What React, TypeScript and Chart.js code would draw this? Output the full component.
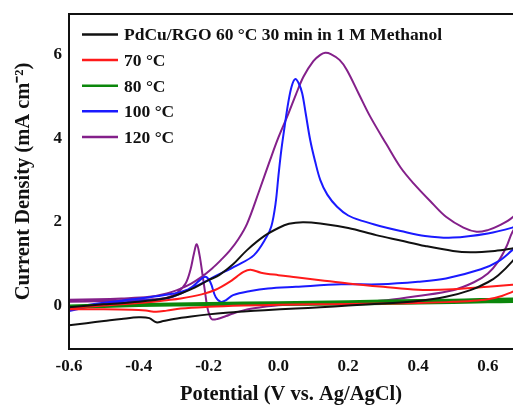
import { useEffect, useRef } from "react";
import { Chart, registerables } from "chart.js";

Chart.register(...registerables);

// ---- Labels & ticks ----
const seriesLabels = [
  "PdCu/RGO 60 °C 30 min in 1 M Methanol",
  "70 °C",
  "80 °C",
  "100 °C",
  "120 °C",
];
const xTickValues = [-0.6, -0.4, -0.2, 0.0, 0.2, 0.4, 0.6];
const yTickValues = [0, 2, 4, 6];

// ---- 60 °C (black) : potential (V) and current density (mA cm-2), closed CV loop ----
const t60V = [
  -0.6, -0.55, -0.5, -0.45, -0.4, -0.37, -0.35, -0.33, -0.3, -0.25, -0.2, -0.15, -0.1, -0.04, 0.05, 0.12,
  0.2, 0.3, 0.4, 0.48, 0.55, 0.6, 0.63, 0.67, 0.71,
  0.71, 0.67, 0.62, 0.55, 0.5, 0.42, 0.35, 0.28, 0.2, 0.12, 0.07, 0.03, 0.0, -0.04, -0.09, -0.13, -0.17, -0.2,
  -0.24, -0.28, -0.32, -0.4, -0.5, -0.6,
];
const t60J = [
  -0.48, -0.43, -0.38, -0.33, -0.29, -0.31, -0.41, -0.38, -0.33, -0.27, -0.22, -0.18, -0.15, -0.12, -0.08, -0.05,
  -0.01, 0.04, 0.1, 0.2, 0.36, 0.55, 0.72, 1.05, 1.5,
  1.42, 1.36, 1.3, 1.27, 1.3, 1.42, 1.55, 1.68, 1.85, 1.96, 1.99, 1.95, 1.85, 1.66, 1.32, 0.98, 0.72, 0.6,
  0.42, 0.28, 0.17, 0.08, 0.02, -0.05,
];

// ---- 70 °C (red) ----
const t70V = [
  -0.6, -0.5, -0.42, -0.38, -0.35, -0.32, -0.28, -0.2, -0.1, 0.0, 0.1, 0.2, 0.3, 0.4, 0.5, 0.55, 0.6, 0.64,
  0.67, 0.71,
  0.71, 0.67, 0.6, 0.5, 0.4, 0.3, 0.2, 0.12, 0.05, 0.0, -0.05, -0.08, -0.1, -0.12, -0.14, -0.18, -0.22,
  -0.28, -0.32, -0.4, -0.5, -0.6,
];
const t70J = [
  -0.1, -0.1, -0.11, -0.13, -0.16, -0.13, -0.08, -0.04, -0.01, 0.01, 0.02, 0.03, 0.04, 0.05, 0.08, 0.1, 0.14,
  0.22, 0.32, 0.45,
  0.52, 0.49, 0.44, 0.38, 0.37, 0.44, 0.52, 0.6, 0.67, 0.72, 0.78, 0.85, 0.8, 0.68, 0.56, 0.37, 0.26,
  0.16, 0.12, 0.05, -0.01, -0.06,
];

// ---- 80 °C (green) ----
const t80V = [-0.6, -0.4, -0.2, 0.0, 0.2, 0.4, 0.6, 0.71, 0.71, 0.5, 0.3, 0.1, -0.1, -0.3, -0.5, -0.6];
const t80J = [-0.05, -0.01, 0.01, 0.02, 0.03, 0.05, 0.08, 0.1, 0.15, 0.12, 0.1, 0.07, 0.05, 0.03, 0.0, -0.02];

// ---- 100 °C (blue) ----
const t100V = [
  -0.6, -0.55, -0.5, -0.4, -0.32, -0.28, -0.247, -0.225, -0.209, -0.195, -0.18, -0.165, -0.15, -0.13, -0.08,
  -0.03, 0.05, 0.18, 0.29, 0.4, 0.48, 0.58, 0.63, 0.67, 0.71,
  0.71, 0.67, 0.6, 0.5, 0.42, 0.35, 0.29, 0.24, 0.2, 0.168, 0.14, 0.12, 0.105, 0.091, 0.078, 0.068, 0.058,
  0.048, 0.038, 0.028, 0.018, 0.008, 0.0, -0.008, -0.02, -0.035, -0.07, -0.12, -0.185, -0.23, -0.28, -0.33,
  -0.4, -0.5, -0.6,
];
const t100J = [
  -0.14, -0.05, 0.02, 0.1, 0.16, 0.28, 0.44, 0.6, 0.68, 0.55, 0.2, 0.08, 0.12, 0.24, 0.34,
  0.4, 0.44, 0.5, 0.5, 0.56, 0.64, 0.86, 1.05, 1.32, 1.6,
  1.98, 1.86, 1.72, 1.62, 1.66, 1.78, 1.9, 2.02, 2.15, 2.36, 2.65, 3.0, 3.45, 3.96, 4.6, 5.08, 5.32,
  5.42, 5.25, 4.85, 4.3, 3.7, 3.1, 2.45, 1.9, 1.62, 1.2, 0.95, 0.68, 0.48, 0.32, 0.24,
  0.16, 0.06, -0.06,
];

// ---- 120 °C (purple) ----
const t120V = [
  -0.6, -0.5, -0.42, -0.36, -0.32, -0.29, -0.266, -0.252, -0.242, -0.234, -0.226, -0.218, -0.21, -0.204,
  -0.197, -0.19, -0.175, -0.15, -0.13, -0.09, -0.04, 0.0, 0.1, 0.2, 0.31, 0.4, 0.5, 0.56, 0.6, 0.63, 0.653,
  0.67, 0.71,
  0.71, 0.67, 0.63, 0.6, 0.568, 0.53, 0.48, 0.44, 0.387, 0.35, 0.31, 0.263, 0.23, 0.196, 0.175, 0.15, 0.134,
  0.12, 0.1, 0.072, 0.05, 0.025, 0.0, -0.023, -0.056, -0.09, -0.115, -0.14, -0.165, -0.19, -0.22, -0.25,
  -0.28, -0.32, -0.37, -0.45, -0.52, -0.6,
];
const t120J = [
  0.08, 0.1, 0.12, 0.14, 0.18, 0.3, 0.52, 0.85, 1.24, 1.46, 1.2, 0.76, 0.3, -0.04,
  -0.25, -0.34, -0.33, -0.26, -0.2, -0.1, -0.04, 0.0, 0.03, 0.06, 0.12, 0.22, 0.36, 0.55, 0.76, 1.05, 1.4,
  1.75, 2.3,
  2.5, 2.1, 1.9, 1.8, 1.76, 1.86, 2.12, 2.45, 2.92, 3.3, 3.85, 4.52, 5.07, 5.64, 5.88, 6.02, 6.05,
  6.0, 5.85, 5.48, 5.05, 4.52, 4.02, 3.5, 2.72, 1.95, 1.58, 1.3, 1.08, 0.88, 0.68, 0.52,
  0.4, 0.28, 0.2, 0.16, 0.14, 0.13,
];

const seriesColors = ["#111111", "#ff1a1a", "#0b870b", "#1a1aff", "#84208a"];
const seriesWidths = [2, 2, 3, 2, 2];

const toPoints = (v: number[], j: number[]) => v.map((x, i) => ({ x, y: j[i] }));

const FONT = '"Liberation Serif", "Times New Roman", serif';

const framePlugin = {
  id: "frame",
  afterDatasetsDraw(chart: any) {
    const { ctx, chartArea } = chart;
    const { left, top, bottom, right } = chartArea;
    ctx.save();
    ctx.strokeStyle = "#111";
    ctx.lineWidth = 2;
    ctx.beginPath();
    ctx.moveTo(right + 2, top);
    ctx.lineTo(left, top);
    ctx.lineTo(left, bottom);
    ctx.lineTo(right + 2, bottom);
    ctx.stroke();
    ctx.restore();
  },
};

const legendPlugin = {
  id: "insetLegend",
  afterDraw(chart: any) {
    const { ctx, chartArea } = chart;
    const { left, top } = chartArea;
    chart.data.datasets.forEach((ds: any, i: number) => {
      const yc = top + 20.5 + i * 25.6;
      ctx.save();
      ctx.strokeStyle = ds.borderColor;
      ctx.lineWidth = 2.5;
      ctx.beginPath();
      ctx.moveTo(left + 13, yc);
      ctx.lineTo(left + 49, yc);
      ctx.stroke();
      ctx.fillStyle = "#111";
      ctx.font = `bold 17.5px ${FONT}`;
      ctx.textBaseline = "alphabetic";
      ctx.textAlign = "left";
      ctx.fillText(ds.label, left + 55, yc + 5.8);
      ctx.restore();
    });
  },
};

export default function App() {
  const canvasRef = useRef<HTMLCanvasElement | null>(null);

  useEffect(() => {
    if (!canvasRef.current) return;
    Chart.defaults.font.family = FONT;
    const series = [
      toPoints(t60V, t60J),
      toPoints(t70V, t70J),
      toPoints(t80V, t80J),
      toPoints(t100V, t100J),
      toPoints(t120V, t120J),
    ];
    const chart = new Chart(canvasRef.current, {
      type: "scatter",
      data: {
        datasets: series.map((data, i) => ({
          label: seriesLabels[i],
          data,
          showLine: true,
          borderColor: seriesColors[i],
          backgroundColor: seriesColors[i],
          borderWidth: seriesWidths[i],
          pointRadius: 0,
          tension: 0.35,
          fill: false,
        })),
      },
      options: {
        animation: false,
        responsive: false,
        maintainAspectRatio: false,
        events: [],
        layout: { padding: { top: 14, left: 0, right: 0, bottom: 0 } },
        plugins: { legend: { display: false }, tooltip: { enabled: false } },
        scales: {
          x: {
            type: "linear",
            min: -0.6,
            max: 0.672,
            grid: { display: false, drawTicks: false },
            border: { display: false },
            afterBuildTicks: (s: any) => {
              s.ticks = xTickValues.map((value) => ({ value }));
            },
            afterFit: (s: any) => {
              s.height = 58;
              s.paddingLeft = 0;
              s.paddingRight = 0;
            },
            ticks: {
              autoSkip: false,
              maxRotation: 0,
              padding: 7,
              color: "#111",
              font: { size: 17, weight: "bold" },
              callback: (v: any) => Number(v).toFixed(1),
            },
            title: {
              display: true,
              text: "Potential (V vs. Ag/AgCl)",
              color: "#111",
              font: { size: 20.5, weight: "bold" },
              padding: { top: 0, bottom: 0 },
            },
          },
          y: {
            type: "linear",
            min: -1.05,
            max: 6.98,
            grid: { display: false, drawTicks: false },
            border: { display: false },
            afterBuildTicks: (s: any) => {
              s.ticks = yTickValues.map((value) => ({ value }));
            },
            afterFit: (s: any) => {
              s.width = 69;
              s.paddingTop = 0;
              s.paddingBottom = 0;
            },
            ticks: {
              autoSkip: false,
              padding: 7,
              color: "#111",
              font: { size: 17, weight: "bold" },
              callback: (v: any) => String(v),
            },
            title: {
              display: true,
              text: "Current Density (mA cm⁻²)",
              color: "#111",
              font: { size: 20.5, weight: "bold" },
              padding: { top: 11, bottom: 0 },
            },
          },
        },
      },
      plugins: [framePlugin, legendPlugin],
    } as any);
    return () => chart.destroy();
  }, []);

  return (
    <div style={{ position: "fixed", left: 0, top: 0, width: 513, height: 407, background: "#fff" }}>
      <canvas ref={canvasRef} width={513} height={407} style={{ display: "block" }} />
    </div>
  );
}
